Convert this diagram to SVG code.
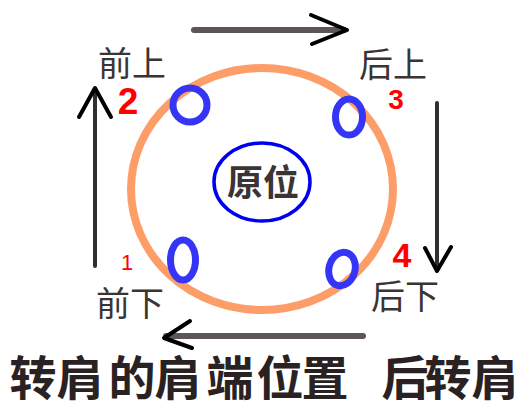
<svg xmlns="http://www.w3.org/2000/svg" width="529" height="408" viewBox="0 0 529 408">
<style>
.lbl{font-family:"Noto Sans CJK SC","Noto Sans",sans-serif;font-size:34px;fill:#3a3434;text-anchor:middle}
.num{font-family:"Liberation Sans",Arial,sans-serif;font-weight:bold;fill:#ff0000;text-anchor:middle}
.shaft{stroke:#5e5656;stroke-width:6;stroke-linecap:round;fill:none}
.vshaft{stroke:#332e2e;stroke-width:4;stroke-linecap:round;fill:none}
.head{stroke:#000;stroke-width:4;stroke-linecap:round;stroke-linejoin:round;fill:none}
.dot{fill:none;stroke:#3535f5;stroke-width:7}
.title{font-family:"Noto Sans CJK SC",sans-serif;font-weight:bold;font-size:47px;fill:#2a2222;text-anchor:middle}
</style>
<rect width="529" height="408" fill="#fff"/>
<g id="ring">
<ellipse cx="262" cy="189" rx="131" ry="121" fill="none" stroke="#fd9d68" stroke-width="8"/>
</g>
<g id="origin">
<ellipse cx="262" cy="182" rx="48" ry="39" fill="none" stroke="#0000ee" stroke-width="3.5"/>
<text class="lbl" x="263" y="196" font-weight="bold" style="font-size:36px">原位</text>
</g>
<g id="p2"><ellipse class="dot" cx="190" cy="105" rx="17" ry="17"/></g>
<g id="p3"><ellipse class="dot" cx="349" cy="117" rx="13.5" ry="18"/></g>
<g id="p1"><ellipse class="dot" cx="183" cy="260" rx="12.5" ry="20"/></g>
<g id="p4"><ellipse class="dot" cx="342" cy="269" rx="13" ry="17" transform="rotate(15 342 269)"/></g>
<g id="labels">
<text class="lbl" x="132" y="76">前上</text>
<text class="lbl" x="393" y="77">后上</text>
<text class="lbl" x="130" y="316">前下</text>
<text class="lbl" x="405" y="309">后下</text>
</g>
<g id="numbers">
<text class="num" x="128" y="114" style="font-size:37px">2</text>
<text class="num" x="396" y="109" style="font-size:28px">3</text>
<text class="num" x="402" y="267" style="font-size:34px">4</text>
<text class="num" x="127" y="270" style="font-size:22px;font-weight:normal">1</text>
</g>
<g id="connectors">
<line class="shaft" x1="194" y1="30" x2="344" y2="30"/>
<polyline class="head" points="311,15 347,30 312,44"/>
<line class="vshaft" x1="95" y1="266" x2="95" y2="90"/>
<polyline class="head" points="79,117 95,88 111,117"/>
<line class="vshaft" x1="437" y1="103" x2="437" y2="270"/>
<polyline class="head" points="425,248 437,271 451,247"/>
<line class="shaft" x1="363" y1="336" x2="166" y2="336"/>
<polyline class="head" points="190,321 164,338 192,348"/>
</g>
<g id="title">
<text class="title" y="395" x="33 80 132 178 230 280 325 405 448 495">转肩的肩端位置后转肩</text>
</g>
</svg>
